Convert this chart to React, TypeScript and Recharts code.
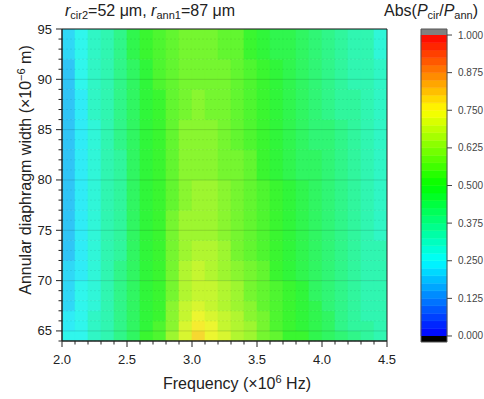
import React from 'react';
import { ComposedChart, XAxis, YAxis, Scatter, ReferenceArea, ReferenceLine } from 'recharts';

// grid cell centres along frequency (×10^6 Hz), 0.1 wide
const freqCenters = [
  2.05, 2.15, 2.25, 2.35, 2.45, 2.55, 2.65, 2.75, 2.85, 2.95, 3.05, 3.15, 3.25,
  3.35, 3.45, 3.55, 3.65, 3.75, 3.85, 3.95, 4.05, 4.15, 4.25, 4.35, 4.45,
];

// row boundaries along the annular diaphragm width (×10^-6 m)
const widthEdges = [64, 65, 66, 67, 68, 70, 72, 74, 77, 80, 83, 86, 89, 92, 95];

// Abs(Pcir/Pann): one column per frequency, rows listed bottom -> top
const ratioByFreq = [
  [0.25, 0.24, 0.23, 0.22, 0.21, 0.2, 0.192, 0.185, 0.18, 0.18, 0.183, 0.189, 0.196, 0.205],
  [0.27, 0.265, 0.26, 0.256, 0.252, 0.249, 0.246, 0.244, 0.243, 0.243, 0.245, 0.249, 0.254, 0.26],
  [0.31, 0.306, 0.302, 0.299, 0.296, 0.293, 0.291, 0.289, 0.288, 0.289, 0.294, 0.302, 0.31, 0.318],
  [0.35, 0.347, 0.344, 0.341, 0.338, 0.335, 0.333, 0.331, 0.33, 0.331, 0.334, 0.339, 0.344, 0.35],
  [0.38, 0.379, 0.378, 0.377, 0.376, 0.375, 0.374, 0.373, 0.372, 0.373, 0.376, 0.38, 0.385, 0.39],
  [0.44, 0.438, 0.436, 0.435, 0.434, 0.433, 0.432, 0.432, 0.432, 0.433, 0.436, 0.44, 0.445, 0.45],
  [0.5, 0.497, 0.494, 0.491, 0.488, 0.486, 0.484, 0.482, 0.481, 0.482, 0.485, 0.489, 0.494, 0.5],
  [0.53, 0.527, 0.524, 0.521, 0.518, 0.515, 0.513, 0.512, 0.511, 0.512, 0.516, 0.522, 0.528, 0.535],
  [0.625, 0.618, 0.611, 0.604, 0.597, 0.59, 0.584, 0.579, 0.575, 0.572, 0.57, 0.568, 0.566, 0.565],
  [0.72, 0.71, 0.7, 0.688, 0.673, 0.657, 0.643, 0.632, 0.62, 0.61, 0.603, 0.598, 0.595, 0.593],
  [0.785, 0.765, 0.745, 0.725, 0.7, 0.678, 0.66, 0.645, 0.63, 0.62, 0.61, 0.605, 0.597, 0.59],
  [0.745, 0.73, 0.715, 0.7, 0.683, 0.665, 0.65, 0.638, 0.625, 0.612, 0.603, 0.597, 0.59, 0.585],
  [0.705, 0.695, 0.685, 0.673, 0.66, 0.645, 0.632, 0.62, 0.608, 0.598, 0.59, 0.583, 0.576, 0.57],
  [0.67, 0.66, 0.65, 0.64, 0.625, 0.61, 0.6, 0.592, 0.586, 0.58, 0.573, 0.565, 0.558, 0.55],
  [0.64, 0.628, 0.617, 0.607, 0.595, 0.582, 0.572, 0.563, 0.556, 0.55, 0.543, 0.536, 0.528, 0.52],
  [0.6, 0.59, 0.58, 0.571, 0.56, 0.55, 0.541, 0.533, 0.526, 0.52, 0.514, 0.508, 0.501, 0.495],
  [0.555, 0.548, 0.541, 0.535, 0.528, 0.52, 0.513, 0.507, 0.501, 0.496, 0.49, 0.484, 0.477, 0.47],
  [0.52, 0.515, 0.51, 0.505, 0.5, 0.494, 0.488, 0.482, 0.476, 0.472, 0.467, 0.462, 0.456, 0.45],
  [0.5, 0.494, 0.488, 0.482, 0.476, 0.47, 0.464, 0.458, 0.452, 0.447, 0.442, 0.437, 0.431, 0.425],
  [0.465, 0.461, 0.457, 0.453, 0.449, 0.444, 0.44, 0.435, 0.431, 0.427, 0.422, 0.417, 0.411, 0.405],
  [0.43, 0.428, 0.426, 0.424, 0.421, 0.418, 0.415, 0.412, 0.409, 0.405, 0.401, 0.396, 0.39, 0.385],
  [0.4, 0.398, 0.397, 0.395, 0.393, 0.391, 0.389, 0.387, 0.385, 0.382, 0.378, 0.374, 0.37, 0.365],
  [0.375, 0.374, 0.373, 0.372, 0.371, 0.369, 0.367, 0.366, 0.364, 0.361, 0.358, 0.354, 0.35, 0.345],
  [0.352, 0.351, 0.35, 0.35, 0.349, 0.348, 0.347, 0.346, 0.344, 0.341, 0.337, 0.333, 0.329, 0.325],
  [0.335, 0.334, 0.333, 0.332, 0.33, 0.328, 0.326, 0.324, 0.321, 0.317, 0.313, 0.309, 0.305, 0.3],
];

const freqTicks = [
  2.0, 2.1, 2.2, 2.3, 2.4, 2.5, 2.6, 2.7, 2.8, 2.9, 3.0, 3.1, 3.2,
  3.3, 3.4, 3.5, 3.6, 3.7, 3.8, 3.9, 4.0, 4.1, 4.2, 4.3, 4.4, 4.5,
];
const freqLabelTicks = [2.0, 2.5, 3.0, 3.5, 4.0, 4.5];
const widthTicks = [
  64, 65, 66, 67, 68, 69, 70, 71, 72, 73, 74, 75, 76, 77, 78, 79,
  80, 81, 82, 83, 84, 85, 86, 87, 88, 89, 90, 91, 92, 93, 94, 95,
];
const widthLabelTicks = [65, 70, 75, 80, 85, 90, 95];
const colorbarTicks = [0, 0.125, 0.25, 0.375, 0.5, 0.625, 0.75, 0.875, 1];
const levelStep = 0.025;

const FONT = '"Liberation Sans", Arial, sans-serif';
const INK = '#222';

// blue -> cyan -> green -> yellow -> red; `soft` lifts the darks a little
const rainbow = (v: number, soft = false) => {
  const stops = [[0, 0, 255], [0, 255, 255], [0, 255, 0], [255, 255, 0], [255, 0, 0]];
  const t = Math.max(0, Math.min(1, v)) * 4;
  const i = Math.min(3, Math.floor(t));
  const f = t - i;
  const c = stops[i].map((a, k) => {
    const base = a + (stops[i + 1][k] - a) * f;
    return Math.round(soft ? 48 + base * (198 / 255) : base);
  });
  return `rgb(${c.join(',')})`;
};

// colour of the contour band a value falls into
const bandColor = (v: number, soft = false) =>
  rainbow((Math.floor(v / levelStep) + 0.5) * levelStep, soft);

const cells: { freq: number; width: number; x1: number; x2: number; y1: number; y2: number; value: number }[] = [];
freqCenters.forEach((f, i) => {
  ratioByFreq[i].forEach((v, j) => {
    cells.push({
      freq: f,
      width: (widthEdges[j] + widthEdges[j + 1]) / 2,
      x1: f - 0.05,
      x2: f + 0.05,
      y1: widthEdges[j],
      y2: widthEdges[j + 1],
      value: v,
    });
  });
});

const levels = Array.from({ length: Math.round(1 / levelStep) }, (_, i) => i * levelStep);

const isLabelled = (v: number, list: number[]) => list.some((l) => Math.abs(l - v) < 1e-6);

const FreqTick = (props: any) => {
  const { x, y, payload } = props;
  const major = isLabelled(payload.value, freqLabelTicks);
  return (
    <g>
      <line x1={x} x2={x} y1={y} y2={y + (major ? 6 : 3.5)} stroke={INK} />
      {major && (
        <text x={x} y={y + 23} textAnchor="middle" fontSize={13} fill={INK} fontFamily={FONT}>
          {payload.value.toFixed(1)}
        </text>
      )}
    </g>
  );
};

const WidthTick = (props: any) => {
  const { x, y, payload } = props;
  const major = isLabelled(payload.value, widthLabelTicks);
  return (
    <g>
      <line x1={x} x2={x - (major ? 6 : 3.5)} y1={y} y2={y} stroke={INK} />
      {major && (
        <text x={x - 10} y={y + 4.5} textAnchor="end" fontSize={13} fill={INK} fontFamily={FONT}>
          {payload.value}
        </text>
      )}
    </g>
  );
};

const BarTick = (props: any) => {
  const { x, y, payload } = props;
  return (
    <g>
      <line x1={x} x2={x + 5} y1={y} y2={y} stroke="#444" />
      <text x={x + 11} y={y + 3.5} fontSize={10} fill="#444" fontFamily={FONT}>
        {payload.value.toFixed(3)}
      </text>
    </g>
  );
};

export default function App() {
  return (
    <div style={{ position: 'relative', width: 484, height: 399, background: '#fff', fontFamily: FONT, overflow: 'hidden' }}>
      <style>{'body{margin:0}'}</style>

      <div style={{ position: 'absolute', left: 0, top: 0 }}>
        <ComposedChart width={484} height={399} data={cells} margin={{ top: 29, right: 97, bottom: 0, left: 0 }}>
          <XAxis
            type="number"
            dataKey="freq"
            domain={[2, 4.5]}
            ticks={freqTicks}
            interval={0}
            tick={<FreqTick />}
            tickLine={false}
            tickSize={0}
            tickMargin={0}
            axisLine={{ stroke: INK }}
            height={58}
            allowDataOverflow
          />
          <YAxis
            type="number"
            dataKey="width"
            domain={[64, 95]}
            ticks={widthTicks}
            interval={0}
            tick={<WidthTick />}
            tickLine={false}
            tickSize={0}
            tickMargin={0}
            axisLine={{ stroke: INK }}
            width={62}
            allowDataOverflow
          />
          {cells.map((c, i) => {
            const color = bandColor(c.value, true);
            return (
              <ReferenceArea
                key={`c${i}`}
                x1={c.x1}
                x2={c.x2}
                y1={c.y1}
                y2={c.y2}
                fill={color}
                fillOpacity={1}
                stroke={color}
                strokeWidth={0.6}
                ifOverflow="hidden"
              />
            );
          })}
          {widthTicks.map((w) => {
            const major = isLabelled(w, widthLabelTicks);
            return (
              <ReferenceLine
                key={`g${w}`}
                y={w}
                stroke="#000"
                strokeOpacity={major ? 0.13 : 0.07}
                strokeDasharray={major ? undefined : '2 2'}
              />
            );
          })}
          <Scatter dataKey="width" isAnimationActive={false} shape={() => <g />} />
          <ReferenceArea x1={2} x2={4.5} y1={64} y2={95} fill="none" stroke={INK} strokeWidth={1} />
        </ComposedChart>
      </div>

      {/* colour scale */}
      <div style={{ position: 'absolute', left: 400, top: 0 }}>
        <ComposedChart
          width={84}
          height={399}
          data={levels.map((l) => ({ level: l, mid: l + levelStep / 2 }))}
          margin={{ top: 29, right: 0, bottom: 57, left: 21 }}
        >
          <XAxis type="number" dataKey="level" domain={[0, 1]} hide allowDataOverflow />
          <YAxis
            type="number"
            dataKey="mid"
            orientation="right"
            domain={[-0.02, 1.02]}
            ticks={colorbarTicks}
            interval={0}
            tick={<BarTick />}
            tickLine={false}
            tickSize={0}
            tickMargin={0}
            axisLine={false}
            width={37}
            allowDataOverflow
          />
          {levels.map((l) => {
            const color = bandColor(l + levelStep / 2);
            return (
              <ReferenceArea
                key={`b${l}`}
                x1={0}
                x2={1}
                y1={l}
                y2={l + levelStep}
                fill={color}
                fillOpacity={1}
                stroke={color}
                strokeWidth={0.5}
              />
            );
          })}
          <ReferenceArea x1={0} x2={1} y1={1} y2={1.02} fill="#808080" fillOpacity={1} />
          <ReferenceArea x1={0} x2={1} y1={-0.02} y2={0} fill="#000" fillOpacity={1} />
          <Scatter dataKey="mid" isAnimationActive={false} shape={() => <g />} />
          <ReferenceArea x1={0} x2={1} y1={-0.02} y2={1.02} fill="none" stroke="#555" />
        </ComposedChart>
      </div>

      <svg width={484} height={399} style={{ position: 'absolute', left: 0, top: 0, pointerEvents: 'none' }} fontFamily={FONT} fill={INK}>
        <text x={65} y={16} fontSize={16}>
          <tspan fontStyle="italic">r</tspan>
          <tspan fontSize={11} dy={3}>cir2</tspan>
          <tspan dy={-3}>=52 μm, </tspan>
          <tspan fontStyle="italic">r</tspan>
          <tspan fontSize={11} dy={3}>ann1</tspan>
          <tspan dy={-3}>=87 μm</tspan>
        </text>
        <text x={384} y={16} fontSize={16}>
          Abs(
          <tspan fontStyle="italic">P</tspan>
          <tspan fontSize={11} dy={3}>cir</tspan>
          <tspan dy={-3}>/</tspan>
          <tspan fontStyle="italic">P</tspan>
          <tspan fontSize={11} dy={3}>ann</tspan>
          <tspan dy={-3}>)</tspan>
        </text>
        <text x={163} y={389} fontSize={16}>
          Frequency (×10
          <tspan fontSize={11} dy={-6}>6</tspan>
          <tspan dy={6}> Hz)</tspan>
        </text>
        <text transform="translate(31, 170) rotate(-90)" textAnchor="middle" fontSize={16}>
          Annular diaphragm width (×10
          <tspan fontSize={11} dy={-6}>−6</tspan>
          <tspan dy={6}> m)</tspan>
        </text>
      </svg>
    </div>
  );
}
